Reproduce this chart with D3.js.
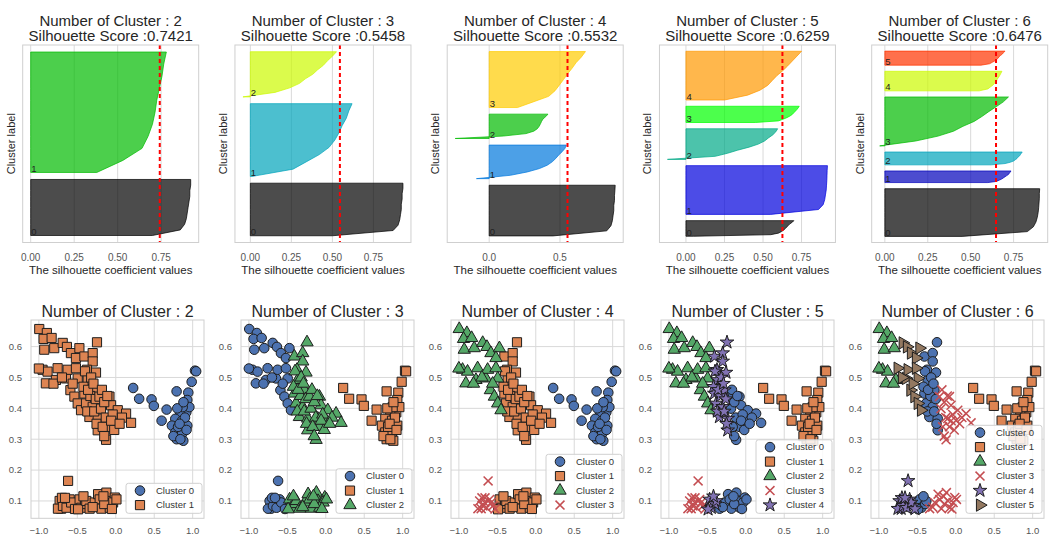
<!DOCTYPE html>
<html>
<head>
<meta charset="utf-8">
<script src="https://cdn.jsdelivr.net/npm/d3@7"></script>
<style>
  body { margin: 0; background: #fff; }
  svg { display: block; font-family: "Liberation Sans", Arial, Helvetica, sans-serif; }
</style>
</head>
<body>
<svg id="chart" width="1049" height="537"></svg>
<script>
// ── Data ──────────────────────────────────────────────────────────────────────

const kValues   = [2, 3, 4, 5, 6];
const silScores = [0.7421, 0.5458, 0.5532, 0.6259, 0.6476];

// cluster sizes (rows in the silhouette plot), cluster 0 first
const silSizes = [
  [80, 172],
  [78, 108, 67],
  [77, 51, 37, 85],
  [25, 78, 49, 26, 78],
  [78, 19, 21, 80, 32, 23]
];

// sorted silhouette values of each cluster, read bottom → top (11 samples)
const silK2 = [
  [0.70, 0.86, 0.885, 0.895, 0.90, 0.905, 0.91, 0.915, 0.915, 0.92, 0.92],
  [0.38, 0.53, 0.64, 0.675, 0.70, 0.715, 0.725, 0.74, 0.755, 0.765, 0.78]
];
const silK3 = [
  [0.50, 0.87, 0.90, 0.91, 0.915, 0.92, 0.92, 0.925, 0.925, 0.93, 0.93],
  [0.01, 0.26, 0.34, 0.42, 0.48, 0.515, 0.54, 0.56, 0.585, 0.60, 0.62],
  [-0.045, 0.15, 0.24, 0.30, 0.335, 0.38, 0.41, 0.445, 0.47, 0.50, 0.525]
];
const silK4 = [
  [0.45, 0.83, 0.86, 0.87, 0.875, 0.88, 0.88, 0.885, 0.885, 0.888, 0.89],
  [-0.09, 0.15, 0.27, 0.355, 0.41, 0.445, 0.47, 0.49, 0.515, 0.535, 0.545],
  [-0.24, 0.10, 0.26, 0.315, 0.34, 0.353, 0.362, 0.37, 0.38, 0.40, 0.415],
  [0.20, 0.31, 0.42, 0.465, 0.495, 0.525, 0.553, 0.585, 0.613, 0.65, 0.68]
];
const silK5 = [
  [0.05, 0.55, 0.60, 0.62, 0.635, 0.645, 0.655, 0.665, 0.675, 0.69, 0.70],
  [0.55, 0.86, 0.89, 0.90, 0.905, 0.91, 0.912, 0.914, 0.915, 0.916, 0.918],
  [-0.12, 0.19, 0.27, 0.335, 0.41, 0.47, 0.51, 0.535, 0.563, 0.583, 0.595],
  [0.45, 0.60, 0.63, 0.655, 0.675, 0.69, 0.70, 0.71, 0.72, 0.728, 0.735],
  [0.25, 0.40, 0.48, 0.53, 0.56, 0.59, 0.628, 0.66, 0.69, 0.72, 0.75]
];
const silK6 = [
  [0.45, 0.83, 0.865, 0.88, 0.888, 0.893, 0.896, 0.898, 0.90, 0.90, 0.902],
  [0.60, 0.65, 0.665, 0.68, 0.69, 0.70, 0.71, 0.72, 0.725, 0.73, 0.735],
  [0.62, 0.70, 0.73, 0.75, 0.76, 0.77, 0.775, 0.785, 0.79, 0.795, 0.80],
  [-0.03, 0.18, 0.31, 0.40, 0.455, 0.52, 0.565, 0.605, 0.648, 0.69, 0.72],
  [0.55, 0.60, 0.615, 0.63, 0.64, 0.65, 0.655, 0.663, 0.67, 0.676, 0.682],
  [0.56, 0.61, 0.625, 0.64, 0.65, 0.66, 0.665, 0.675, 0.685, 0.692, 0.70]
];
const silProfiles = [silK2, silK3, silK4, silK5, silK6];

const silTicks = [
  [0, 0.25, 0.5, 0.75],
  [0, 0.25, 0.5, 0.75],
  [0, 0.5],
  [0, 0.25, 0.5, 0.75],
  [0, 0.25, 0.5, 0.75]
];
const silTickFormat = [".2f", ".2f", ".1f", ".2f", ".2f"];

// nipy_spectral(i / k)
const silPalette = [
  ["#000000", "#00bb00"],
  ["#000000", "#00a4bb", "#ccf900"],
  ["#000000", "#0077dd", "#00bb00", "#ffcc00"],
  ["#000000", "#0000dd", "#00aa88", "#00ff00", "#ff9900"],
  ["#000000", "#0000bb", "#00a4bb", "#00bb00", "#ccf900", "#ff3300"]
];

// scatter points, grouped by region of the plane
const ptsA = [[-0.995,0.657],[-0.896,0.644],[-0.939,0.625],[-0.834,0.628],[-0.93,0.59],[-0.80,0.595],
  [-0.952,0.525],[-0.887,0.519],[-0.909,0.481],[-0.778,0.492],[-1.0,0.529],[-0.81,0.48]];
const ptsB = [[-0.69,0.612],[-0.635,0.599],[-0.583,0.579],[-0.473,0.595],[-0.518,0.563],[-0.756,0.530],
  [-0.648,0.497],[-0.626,0.525],[-0.518,0.530],[-0.495,0.497],[-0.59,0.459],[-0.538,0.438],
  [-0.495,0.416],[-0.452,0.394],[-0.70,0.50],[-0.56,0.48]];
const ptsD = [[-0.408,0.568],[-0.30,0.579],[-0.244,0.614],[-0.30,0.552],[-0.374,0.525],[-0.365,0.492],
  [-0.257,0.516],[-0.408,0.448],[-0.278,0.459],[-0.387,0.416],[-0.30,0.405],[-0.343,0.372],
  [-0.235,0.367],[-0.235,0.329],[-0.42,0.47],[-0.33,0.44],[-0.26,0.43],[-0.37,0.39],[-0.28,0.39],
  [-0.25,0.35],[-0.40,0.52],[-0.32,0.50],[-0.36,0.46],[-0.29,0.48]];
const ptsE = [[-0.212,0.438],[-0.082,0.438],[-0.192,0.399],[-0.061,0.41],[0.026,0.394],[0.134,0.383],
  [0.199,0.353],[-0.104,0.367],[0.004,0.361],[-0.082,0.340],[-0.126,0.298],[-0.15,0.42],
  [-0.13,0.37],[-0.04,0.38],[-0.17,0.34],[-0.02,0.33],[0.08,0.37],[-0.18,0.46],[-0.11,0.44],
  [-0.06,0.36],[0.05,0.35],[-0.15,0.31]];
const ptsV = [[0.226,0.466],[0.304,0.431],[0.465,0.429],[0.495,0.408],[0.791,0.455],[0.987,0.486],
  [0.943,0.451],[0.930,0.427],[0.661,0.396],[0.596,0.360],[0.917,0.387],[0.839,0.381],
  [0.774,0.366],[0.861,0.360],[0.73,0.344],[0.774,0.322],[0.861,0.317],[0.791,0.300],
  [0.878,0.295],[0.93,0.344],[1.03,0.522],[1.045,0.52],[0.957,0.404],[0.870,0.404],
  [0.81,0.34],[0.90,0.37],[0.75,0.31],[0.84,0.30],[0.80,0.40],[0.88,0.42],[0.83,0.35],[0.92,0.33]];
const ptsF = [[-0.62,0.165],[-0.73,0.10],[-0.71,0.075],[-0.665,0.095],[-0.60,0.105],[-0.557,0.084],
  [-0.752,0.075],[-0.687,0.084],[-0.64,0.078],[-0.58,0.095],[-0.70,0.11],[-0.53,0.074],[-0.66,0.11]];
const ptsG = [[-0.47,0.105],[-0.448,0.078],[-0.40,0.09],[-0.49,0.073],[-0.383,0.10],[-0.42,0.115]];
const ptsH = [[-0.34,0.075],[-0.274,0.095],[-0.23,0.122],[-0.209,0.105],[-0.187,0.075],[-0.122,0.127],
  [-0.10,0.10],[-0.078,0.078],[-0.013,0.111],[-0.035,0.095],[0.009,0.105],[-0.30,0.08],
  [-0.15,0.09],[-0.05,0.074],[-0.16,0.115]];

const segmentPoints = [ptsA, ptsB, ptsD, ptsE, ptsV, ptsF, ptsG, ptsH];
// cluster of each region for k = 2..6
const segmentLabels = [
  [1, 0, 2, 2, 2],
  [1, 0, 2, 2, 5],
  [1, 2, 1, 4, 0],
  [1, 2, 1, 0, 3],
  [0, 1, 0, 1, 1],
  [1, 0, 3, 3, 4],
  [1, 2, 1, 4, 0],
  [1, 2, 1, 0, 3]
];

const clusterColors = ["#4c72b0", "#dd8452", "#55a868", "#c44e52", "#8172b3", "#937860"];
const clusterShapes = ["circle", "square", "triangle", "x", "star", "triRight"];

const scatterXTicks = [-1.0, -0.5, 0.0, 0.5, 1.0];
const scatterYTicks = [0.1, 0.2, 0.3, 0.4, 0.5, 0.6];

// ── Helpers ───────────────────────────────────────────────────────────────────

const svg = d3.select("#chart");
const GRID = "#d9d9d9";
const FRAME = "#cfcfcf";
const TICK = "#555";

function padded(extent) {
  const r = extent[1] - extent[0];
  return [extent[0] - 0.05 * r, extent[1] + 0.05 * r];
}

function markerPath(shape) {
  if (shape === "circle")   return d3.symbol(d3.symbolCircle, 72)();
  if (shape === "square")   return d3.symbol(d3.symbolSquare, 84)();
  if (shape === "triangle") return d3.symbol(d3.symbolTriangle, 66)();
  if (shape === "x")        return d3.symbol(d3.symbolTimes || d3.symbolX, 54)();
  if (shape === "star")     return d3.symbol(d3.symbolStar, 58)();
  return d3.symbol(d3.symbolTriangle, 66)();
}

function drawMarker(g, c, x, y) {
  const shape = clusterShapes[c];
  const p = g.append("path")
    .attr("d", markerPath(shape))
    .attr("transform", `translate(${x},${y})` + (shape === "triRight" ? " rotate(90)" : ""));
  if (shape === "x") {
    p.attr("fill", "none").attr("stroke", clusterColors[c]).attr("stroke-width", 1.5);
  } else {
    p.attr("fill", clusterColors[c]).attr("stroke", "#1e1e1e").attr("stroke-width", 1);
  }
}

// ── Silhouette row ────────────────────────────────────────────────────────────

function drawSilhouette(i) {
  const k = kValues[i];
  const left = 22.7 + i * 212.25, width = 176, top = 45, height = 197.5;
  const sizes = silSizes[i], profiles = silProfiles[i];
  const total = d3.sum(sizes) + (k + 1) * 10;

  const allVals = profiles.flat().concat([0]);
  const x = d3.scaleLinear().domain(padded(d3.extent(allVals))).range([left, left + width]);
  const y = d3.scaleLinear().domain([0, total]).range([top + height, top]);
  const g = svg.append("g");

  g.selectAll("line.grid").data(silTicks[i]).join("line")
    .attr("x1", d => x(d)).attr("x2", d => x(d))
    .attr("y1", top).attr("y2", top + height)
    .attr("stroke", GRID).attr("stroke-width", 1);

  let yLower = 10;
  profiles.forEach((vals, c) => {
    const size = sizes[c];
    const rows = vals.map((v, j) => ({ v, pos: yLower + (j / (vals.length - 1)) * size }));
    const area = d3.area().x0(x(0)).x1(d => x(d.v)).y(d => y(d.pos));
    g.append("path").attr("d", area(rows))
      .attr("fill", silPalette[i][c]).attr("fill-opacity", 0.7)
      .attr("stroke", silPalette[i][c]).attr("stroke-opacity", 0.7).attr("stroke-width", 1);
    g.append("text")
      .attr("x", x(0) + 0.5).attr("y", y(yLower) - 0.5)
      .attr("font-size", 9.5).attr("fill", "#222")
      .text(c);
    yLower += size + 10;
  });

  g.append("line")
    .attr("x1", x(silScores[i])).attr("x2", x(silScores[i]))
    .attr("y1", top).attr("y2", top + height)
    .attr("stroke", "#ff0000").attr("stroke-width", 2).attr("stroke-dasharray", "4,3");

  g.append("rect").attr("x", left).attr("y", top).attr("width", width).attr("height", height)
    .attr("fill", "none").attr("stroke", FRAME).attr("stroke-width", 1);

  const fmt = d3.format(silTickFormat[i]);
  g.selectAll("text.tick").data(silTicks[i]).join("text")
    .attr("x", d => x(d)).attr("y", 260.5)
    .attr("text-anchor", "middle").attr("font-size", 10).attr("fill", TICK)
    .text(d => fmt(d));

  g.append("text").attr("x", left + width / 2).attr("y", 274)
    .attr("text-anchor", "middle").attr("font-size", 11.5).attr("fill", "#262626")
    .text("The silhouette coefficient values");

  g.append("text")
    .attr("transform", `translate(${left - 8},${top + height / 2}) rotate(-90)`)
    .attr("text-anchor", "middle").attr("font-size", 11).attr("fill", "#262626")
    .text("Cluster label");

  g.append("text").attr("x", left + width / 2).attr("y", 25.5)
    .attr("text-anchor", "middle").attr("font-size", 15).attr("fill", "#262626")
    .text(`Number of Cluster : ${k}`);
  g.append("text").attr("x", left + width / 2).attr("y", 41)
    .attr("text-anchor", "middle").attr("font-size", 15).attr("fill", "#262626")
    .text(`Silhouette Score :${silScores[i].toFixed(4)}`);
}

// ── Scatter row ───────────────────────────────────────────────────────────────

const allPoints = segmentPoints.flat();
const sx0 = padded(d3.extent(allPoints, d => d[0]));
const sy0 = padded(d3.extent(allPoints, d => d[1]));

function drawScatter(i) {
  const k = kValues[i];
  const left = 31 + i * 210, width = 173, top = 320, height = 198.3;
  const x = d3.scaleLinear().domain(sx0).range([left, left + width]);
  const y = d3.scaleLinear().domain(sy0).range([top + height, top]);
  const g = svg.append("g");

  g.selectAll("line.gx").data(scatterXTicks).join("line")
    .attr("x1", d => x(d)).attr("x2", d => x(d)).attr("y1", top).attr("y2", top + height)
    .attr("stroke", GRID);
  g.selectAll("line.gy").data(scatterYTicks).join("line")
    .attr("x1", left).attr("x2", left + width).attr("y1", d => y(d)).attr("y2", d => y(d))
    .attr("stroke", GRID);

  const labelled = [];
  segmentPoints.forEach((pts, s) => {
    pts.forEach(p => labelled.push({ x: p[0], y: p[1], c: segmentLabels[s][i] }));
  });
  for (let c = 0; c < k; c++) {
    labelled.filter(d => d.c === c).forEach(d => drawMarker(g, c, x(d.x), y(d.y)));
  }

  g.append("rect").attr("x", left).attr("y", top).attr("width", width).attr("height", height)
    .attr("fill", "none").attr("stroke", FRAME);

  g.selectAll("text.tx").data(scatterXTicks).join("text")
    .attr("x", d => x(d)).attr("y", 533.5)
    .attr("text-anchor", "middle").attr("font-size", 9.5).attr("fill", TICK)
    .text(d => d3.format(".1f")(d).replace("-", "\u2212"));
  g.selectAll("text.ty").data(scatterYTicks).join("text")
    .attr("x", left - 9).attr("y", d => y(d)).attr("dy", "0.35em")
    .attr("text-anchor", "end").attr("font-size", 9.5).attr("fill", TICK)
    .text(d => d3.format(".1f")(d));

  g.append("text").attr("x", left + width / 2).attr("y", 316.5)
    .attr("text-anchor", "middle").attr("font-size", 16).attr("fill", "#262626")
    .text(`Number of Cluster : ${k}`);

  // legend, lower right
  const rowH = 14.5;
  const boxRight = left + width - 2, boxBottom = top + height - 5;
  const boxW = 76, boxH = k * rowH + 1;
  const boxLeft = boxRight - boxW, boxTop = boxBottom - boxH;
  g.append("rect").attr("x", boxLeft).attr("y", boxTop).attr("width", boxW).attr("height", boxH)
    .attr("rx", 2.5).attr("fill", "#fff").attr("fill-opacity", 0.85)
    .attr("stroke", "#d0d0d0");
  d3.range(k).forEach(c => {
    const cy = boxTop + 7.3 + c * rowH;
    drawMarker(g, c, boxLeft + 14, cy);
    g.append("text").attr("x", boxLeft + 30).attr("y", cy).attr("dy", "0.35em")
      .attr("font-size", 9.5).attr("fill", "#333").text(`Cluster ${c}`);
  });
}

kValues.forEach((k, i) => {
  drawSilhouette(i);
  drawScatter(i);
});
</script>
</body>
</html>
